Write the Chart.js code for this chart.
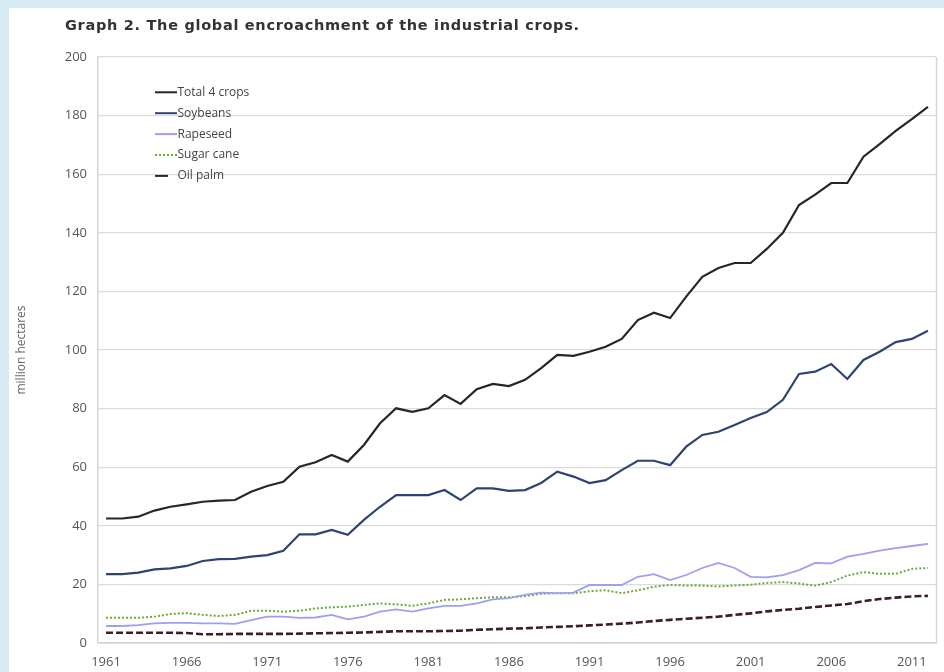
<!DOCTYPE html>
<html>
<head>
<meta charset="utf-8">
<script src="https://cdn.jsdelivr.net/npm/chart.js@4.4.1/dist/chart.umd.min.js"></script>
<style>
  html, body { margin: 0; padding: 0; }
  body { width: 944px; height: 672px; background: #d5ebf1; position: relative; overflow: hidden; }
  #panel { position: absolute; left: 9px; top: 8px; width: 935px; height: 664px; background: #fff; }
  #title { position: absolute; left: 56px; top: 10px; font: bold 14.5px/1 "DejaVu Sans", sans-serif; letter-spacing: 0.7px; color: #333; white-space: nowrap; }
  #wrap { position: absolute; left: 0; top: 0; width: 935px; height: 664px; }
</style>
</head>
<body>
<div id="panel">
  <div id="wrap"><canvas id="chart" width="935" height="664"></canvas></div>
  <div id="title">Graph 2. The global encroachment of the industrial crops.</div>
</div>
<script>
const years = ["1961","1962","1963","1964","1965","1966","1967","1968","1969","1970",
  "1971","1972","1973","1974","1975","1976","1977","1978","1979","1980",
  "1981","1982","1983","1984","1985","1986","1987","1988","1989","1990",
  "1991","1992","1993","1994","1995","1996","1997","1998","1999","2000",
  "2001","2002","2003","2004","2005","2006","2007","2008","2009","2010",
  "2011","2012"];
const shownYears = ["1961","1966","1971","1976","1981","1986","1991","1996","2001","2006","2011"];

const totalCrops = [42.5,42.5,43.1,45.2,46.5,47.3,48.2,48.6,48.8,51.6,
  53.6,55,60.2,61.7,64.2,61.9,67.6,75,80.1,78.9,
  80.1,84.6,81.6,86.6,88.4,87.7,89.8,93.8,98.3,98,
  99.4,101.1,103.8,110.2,112.7,110.9,118.2,125,128,129.7,
  129.7,134.5,140,149.5,153,157,157,166,170.3,174.8,
  178.8,183];
const soybeans = [23.5,23.5,24,25.1,25.5,26.3,28,28.6,28.7,29.5,
  30,31.5,37.1,37.1,38.6,36.9,42,46.5,50.5,50.5,
  50.5,52.2,48.8,52.8,52.8,51.9,52.2,54.6,58.5,56.8,
  54.6,55.6,59,62.2,62.2,60.7,67,71,72.1,74.4,
  76.8,78.8,83,91.8,92.6,95.2,90.1,96.6,99.4,102.7,
  103.8,106.6];
const rapeseed = [5.8,5.8,6.1,6.7,6.9,6.9,6.7,6.7,6.5,7.8,
  9,9,8.6,8.7,9.6,8.1,9,10.7,11.5,10.7,
  11.8,12.7,12.7,13.5,14.9,15.3,16.4,17.2,17,17.2,
  19.8,19.8,19.8,22.6,23.5,21.5,23.2,25.6,27.3,25.6,
  22.6,22.4,23.2,24.9,27.3,27.2,29.5,30.4,31.5,32.4,
  33.1,33.8];
const sugarCane = [8.6,8.6,8.6,9,9.9,10.2,9.6,9.2,9.6,11,
  11,10.7,11,11.8,12.2,12.4,13,13.5,13.2,12.7,
  13.5,14.7,14.9,15.3,15.6,15.6,16,16.8,17,17,
  17.7,18,17,18,19.2,19.8,19.6,19.6,19.3,19.6,
  19.9,20.5,20.8,20.3,19.6,20.8,23,24.2,23.6,23.6,
  25.3,25.6];
const oilPalm = [3.5,3.5,3.5,3.5,3.5,3.4,3.0,3.0,3.1,3.1,
  3.1,3.1,3.2,3.3,3.4,3.5,3.6,3.8,4.0,4.0,
  4.0,4.1,4.2,4.5,4.7,4.9,5.0,5.3,5.5,5.7,
  6.0,6.3,6.6,7.0,7.5,7.9,8.3,8.6,9.0,9.6,
  10.1,10.8,11.3,11.7,12.3,12.8,13.3,14.3,15.0,15.5,
  15.9,16.1];

const seriesNames = ["Total 4 crops", "Soybeans", "Rapeseed", "Sugar cane", "Oil palm"];
const yTitle = "million hectares";

// legend sits inside the plot, top left
const insideLegend = {
  id: "insideLegend",
  afterDraw(chart) {
    const ctx = chart.ctx;
    ctx.save();
    ctx.font = "12px 'Open Sans', sans-serif";
    ctx.textBaseline = "middle";
    chart.data.datasets.forEach((ds, i) => {
      const y = 84.3 + i * 20.9;
      ctx.strokeStyle = ds.borderColor;
      ctx.lineWidth = 2;
      // oil palm key is a short solid dash in the original
      ctx.setLineDash(i == 3 ? ds.borderDash : []);
      ctx.beginPath();
      ctx.moveTo(146, y);
      ctx.lineTo(i == 4 ? 159 : 168, y);
      ctx.stroke();
      ctx.setLineDash([]);
      ctx.fillStyle = "#444";
      ctx.fillText(ds.label, 168.5, y);
    });
    ctx.restore();
  }
};

// right-hand frame line of the plot area
const frame = {
  id: "frame",
  beforeDatasetsDraw(chart) {
    const a = chart.chartArea, ctx = chart.ctx;
    ctx.save();
    ctx.strokeStyle = "#d6d6d6";
    ctx.lineWidth = 1.5;
    ctx.beginPath();
    ctx.moveTo(a.right + 0.5, a.top);
    ctx.lineTo(a.right + 0.5, a.bottom);
    ctx.stroke();
    ctx.restore();
  }
};

new Chart(document.getElementById("chart"), {
  type: "line",
  data: {
    labels: years,
    datasets: [
      { label: seriesNames[0], data: totalCrops, borderColor: "#262626", borderWidth: 2.2 },
      { label: seriesNames[1], data: soybeans, borderColor: "#2d4470", borderWidth: 2.2 },
      { label: seriesNames[2], data: rapeseed, borderColor: "#9f9ff0", borderWidth: 1.8 },
      { label: seriesNames[3], data: sugarCane, borderColor: "#6aaa3a", borderWidth: 2, borderDash: [2, 2] },
      { label: seriesNames[4], data: oilPalm, borderColor: "#3d1d26", borderWidth: 2.6, borderDash: [7, 3] }
    ]
  },
  options: {
    responsive: false,
    animation: false,
    layout: { padding: { left: 0, top: 49, right: 8, bottom: 0 } },
    elements: {
      point: { radius: 0 },
      line: { tension: 0, fill: false }
    },
    plugins: {
      legend: { display: false },
      tooltip: { enabled: false }
    },
    scales: {
      x: {
        type: "category",
        offset: true,
        grid: { display: false, drawTicks: false },
        border: { display: true, color: "#cfcfcf", width: 1.5 },
        ticks: {
          autoSkip: false,
          maxRotation: 0,
          padding: 11,
          color: "#555",
          font: { family: "'Open Sans', sans-serif", size: 13 },
          callback: function (v) {
            const y = this.getLabelForValue(v);
            return shownYears.includes(y) ? y : null;
          }
        },
        afterFit(scale) { scale.height = 29; }
      },
      y: {
        min: 0,
        max: 200,
        grid: { color: "#dcdcdc", lineWidth: 1.2, drawTicks: false },
        border: { display: true, color: "#d6d6d6", width: 1.5 },
        ticks: {
          stepSize: 20,
          padding: 11,
          color: "#555",
          font: { family: "'Open Sans', sans-serif", size: 13 }
        },
        title: {
          display: true,
          text: yTitle,
          color: "#666",
          padding: { top: 5, bottom: 0 },
          font: { family: "'Open Sans', sans-serif", size: 12 }
        },
        afterFit(scale) { scale.width = 89; }
      }
    }
  },
  plugins: [insideLegend, frame]
});
</script>
</body>
</html>
